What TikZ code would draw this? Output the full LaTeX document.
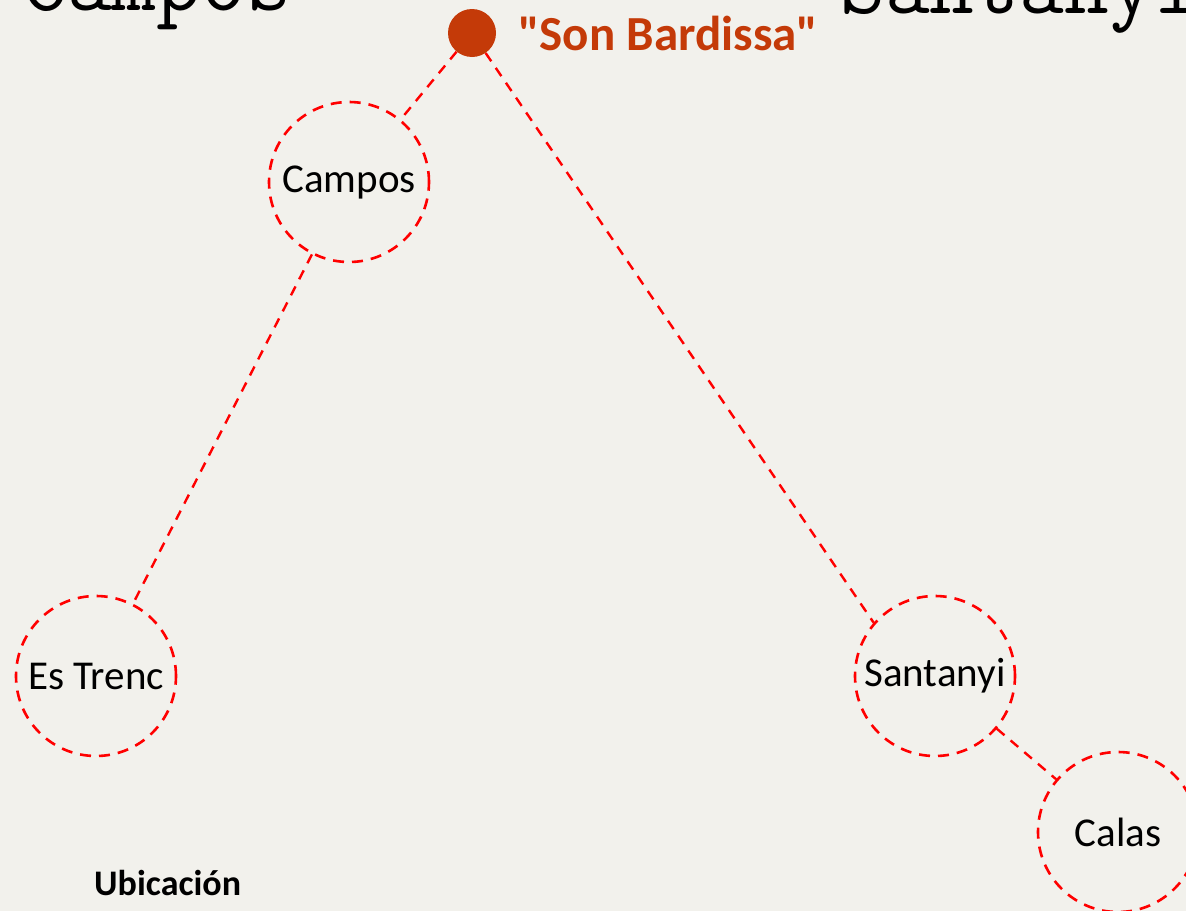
\documentclass[tikz,border=0pt]{standalone}
\usepackage{fontspec}
\setmainfont{Carlito}
\newfontfamily\rawfam[Ligatures=TeXOff]{Carlito}
\definecolor{bgc}{RGB}{242,241,236}
\definecolor{dotc}{RGB}{196,58,8}
\definecolor{dashred}{RGB}{255,0,0}
\tikzset{
  place/.style={circle, draw=dashred, line width=2.6bp, dash pattern=on 11bp off 8bp,
    minimum size=160bp, inner sep=0pt, text=black,
    font=\fontsize{41bp}{48bp}\selectfont},
  conn/.style={draw=dashred, line width=2.4bp, dash pattern=on 10bp off 8bp},
  dotnode/.style={circle, fill=dotc, minimum size=48bp, inner sep=0pt},
  toptext/.style={anchor=base west, inner sep=0pt, text=black,
    font=\ttfamily\fontsize{87bp}{90bp}\selectfont},
}
\begin{document}
\begin{tikzpicture}[x=1bp, y=-1bp]
\clip (0,0) rectangle (1186,911);
\useasboundingbox (0,0) rectangle (1186,911);
\fill[bgc] (0,0) rectangle (1186,911);
% cut-off title texts at the top
\node[toptext] (tcampos) at (22,10) {Campos};
\node[toptext] (tsant) at (840,13) {Santanyi};
% main dot and label
\node[dotnode] (sb) at (472,33) {};
\node[anchor=base west, inner sep=0pt, text=dotc,
  font=\rawfam\bfseries\fontsize{49bp}{58bp}\selectfont] (sbl) at (518,50) {"Son Bardissa"};
% places
\node[place] (cam) at (349,182) {Campos};
\node[place] (es) at (96,676) {Es Trenc};
\node[place] (sant) at (935,676) {Santanyi};
\node[place] (cal) at (1118,832) {Calas};
% connectors
\draw[conn] (sb) -- (cam);
\draw[conn] (sb) -- (sant.139);
\draw[conn] (cam) -- (es);
\draw[conn] (sant) -- (cal);
% bottom heading
\node[anchor=base west, inner sep=0pt, text=black,
  font=\bfseries\fontsize{36bp}{42bp}\selectfont] (ubic) at (94,895) {Ubicación};
\end{tikzpicture}
\end{document}
